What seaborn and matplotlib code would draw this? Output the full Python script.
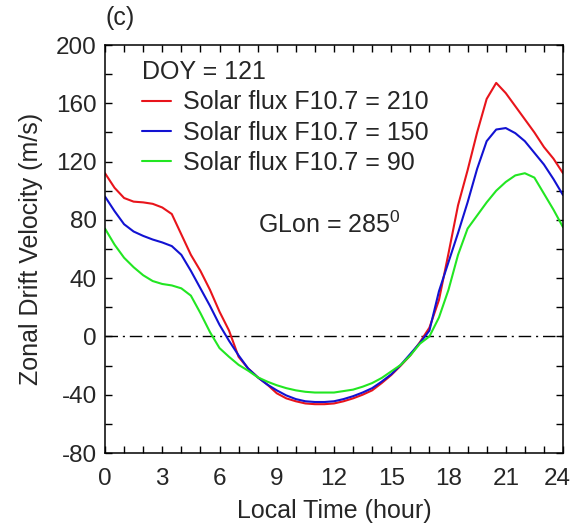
import numpy as np
import pandas as pd
import matplotlib
matplotlib.use("Agg")
import matplotlib.pyplot as plt
from matplotlib.transforms import ScaledTranslation
import seaborn as sns

# Local time grid (hours) and zonal drift velocity (m/s) for three solar flux levels
hours = [0, 0.5, 1, 1.5, 2, 2.5, 3, 3.5, 4, 4.5, 5, 5.5, 6, 6.5, 7, 7.5, 8, 8.5,
         9, 9.5, 10, 10.5, 11, 11.5, 12, 12.5, 13, 13.5, 14, 14.5, 15, 15.5, 16,
         16.5, 17, 17.5, 18, 18.5, 19, 19.5, 20, 20.5, 21, 21.5, 22, 22.5, 23,
         23.5, 24]

drift_f210 = [112, 102, 95, 92.5, 92, 91, 88.5, 84, 70, 56, 45, 32, 17, 4, -14,
              -22, -28, -33, -39, -42.5, -44.5, -46, -46.5, -46.5, -46, -44.5,
              -42.5, -40, -37, -32, -26.5, -20, -13, -4, 6, 25, 57, 90, 114,
              140, 163, 174, 167, 158, 149, 140, 130, 122, 112]

drift_f150 = [96, 86, 77, 72, 69, 66.5, 64.5, 62, 56, 45, 33, 21, 8, -3, -13,
              -22, -28, -33, -37, -40.5, -43, -44.5, -45, -45, -44.5, -43, -41,
              -38.5, -35.5, -31, -26, -19.5, -12, -4.5, 4, 31, 51, 71, 92, 115,
              134, 142, 143, 139.5, 134, 126, 118, 108, 97]

drift_f90 = [74, 63, 54, 47.5, 42, 38, 36, 35, 33, 28, 16, 3, -8, -14, -19.5,
             -23.5, -28, -31, -33.5, -35.5, -37, -38, -38.5, -38.5, -38.5,
             -37.5, -36.5, -34.5, -32, -28.5, -24, -19.5, -13, -5, 0, 13, 32,
             56, 74, 83, 92, 100, 106, 110.5, 112, 109, 98, 87, 75]

series_labels = ["Solar flux F10.7 = 210",
                 "Solar flux F10.7 = 150",
                 "Solar flux F10.7 = 90"]
series_colors = ["#e8141b", "#1212d2", "#22e622"]

x_ticks = [0, 3, 6, 9, 12, 15, 18, 21, 24]
y_ticks = [-80, -40, 0, 40, 80, 120, 160, 200]

frames = []
for label, vals in zip(series_labels, [drift_f210, drift_f150, drift_f90]):
    frames.append(pd.DataFrame({"hour": hours, "drift": vals, "series": label}))
df = pd.concat(frames, ignore_index=True)

sns.set_style("ticks")
plt.rcParams["font.family"] = ["Liberation Sans", "DejaVu Sans"]
plt.rcParams["mathtext.fontset"] = "custom"
plt.rcParams["mathtext.rm"] = "Liberation Sans"
plt.rcParams["axes.unicode_minus"] = False

TICK_FS = 17.5
TEXT_FS = 18

fig = plt.figure(figsize=(5.72, 5.23), dpi=100)
ax = fig.add_axes([105 / 572, 70 / 523, 458 / 572, 408 / 523])

sns.lineplot(data=df, x="hour", y="drift", hue="series",
             hue_order=series_labels,
             palette=dict(zip(series_labels, series_colors)),
             estimator=None, sort=False, linewidth=1.5, legend=False, ax=ax)

ax.axhline(0, color="black", linewidth=1.0, linestyle=(0, (9, 3.5, 1.5, 3.5)),
           zorder=1)

ax.set_xlim(0, 24)
ax.set_ylim(-80, 200)
ax.set_xticks(x_ticks)
ax.set_xticks(np.arange(0, 25, 1), minor=True)
ax.set_yticks(y_ticks)
ax.set_yticks(np.arange(-80, 201, 20), minor=True)
ax.tick_params(which="both", direction="in", top=True, right=True,
               length=5, width=1.0, color="black")
ax.tick_params(axis="x", which="major", labelsize=TICK_FS, pad=11)
ax.tick_params(axis="y", which="major", labelsize=TICK_FS, pad=6)
for side in ax.spines.values():
    side.set_linewidth(1.1)
    side.set_color("black")

# keep the last hour label inside the figure edge
last_lbl = ax.get_xticklabels()[-1]
last_lbl.set_transform(last_lbl.get_transform()
                       + ScaledTranslation(-6 / 100, 0, fig.dpi_scale_trans))

ax.set_xlabel("Local Time (hour)", fontsize=TEXT_FS, labelpad=6)
ax.set_ylabel("Zonal Drift Velocity (m/s)", fontsize=TEXT_FS, labelpad=9)

handles = ax.get_lines()[:3]
leg = ax.legend(handles, series_labels, title="DOY = 121", loc="upper left",
                bbox_to_anchor=(0.07, 0.975), frameon=False, fontsize=TEXT_FS,
                title_fontsize=TEXT_FS, handlelength=1.15, handletextpad=0.5,
                labelspacing=0.25, borderaxespad=0.0, borderpad=0.2,
                alignment="left")

ax.text(0.334, 0.56, r"GLon = 285$^{\mathrm{0}}$", transform=ax.transAxes,
        fontsize=TEXT_FS, ha="left", va="center")
ax.text(0.002, 1.065, "(c)", transform=ax.transAxes, fontsize=TEXT_FS,
        ha="left", va="center")

fig.savefig("out.png", dpi=100)
